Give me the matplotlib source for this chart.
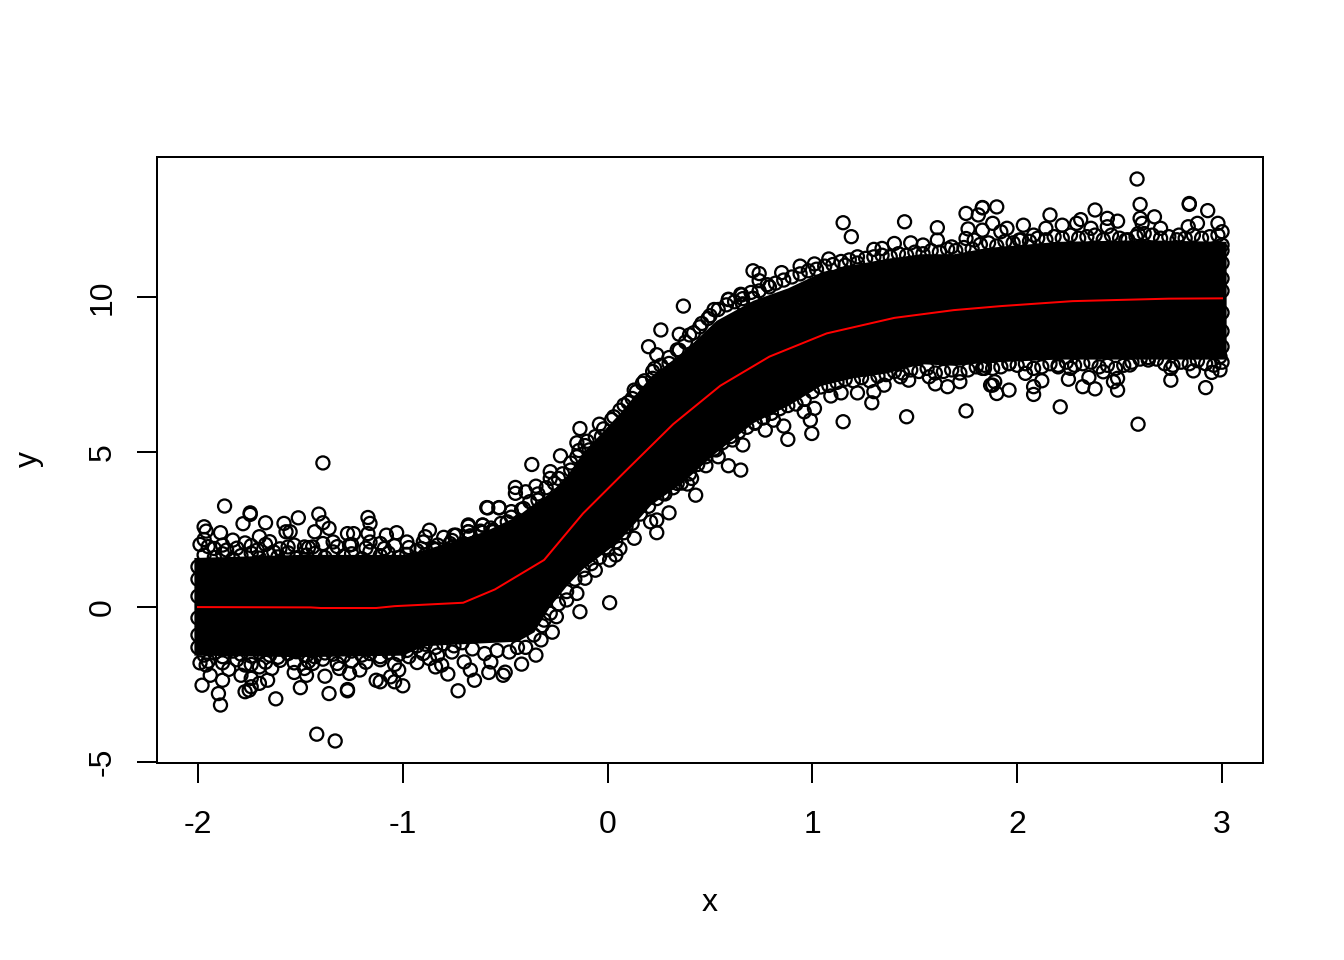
import matplotlib
matplotlib.use('Agg')
import numpy as np
import matplotlib.pyplot as plt

core_x = [-2.02, -1.5, -1.0, -0.9, -0.77, -0.6, -0.44, -0.36, -0.28, -0.2, -0.12, 0.05, 0.21, 0.37, 0.53, 0.71, 0.88,
          1.04, 1.2, 1.36, 1.53, 1.69, 1.85, 2.2, 2.6, 3.02]
core_upper = [1.6, 1.7, 1.7, 1.85, 2.1, 2.45, 2.95, 3.35, 3.7, 4.25, 5.0, 6.2, 7.45, 8.25, 9.25, 9.9, 10.3,
              10.8, 11.05, 11.25, 11.4, 11.4, 11.6, 11.8, 11.85, 11.8]
core_lower = [-1.55, -1.6, -1.55, -1.25, -1.2, -1.15, -1.1, -0.8, 0.05, 0.7, 1.25, 2.1, 3.3, 4.05, 5.0, 5.95, 6.5,
              7.15, 7.4, 7.55, 7.85, 7.8, 7.9, 8.0, 8.0, 8.0]

# Individually visible circles on the fringe of the cloud
upper_x = [-1.39, -1.87, -1.745, -1.745, -1.78, -1.67, -1.97, -1.96, -1.97, -1.99, -1.89, -1.51, -1.41, -1.58, -1.57,
           -1.55, -1.39, -1.36, -1.43, -1.17, -1.16, -1.27, -1.24, -1.17, -1.08, -1.03, -0.87, -0.89, -0.80, -0.74,
           -0.68, -0.68, -0.61, -0.56, -0.585, -0.53, -1.70, -1.65, -1.83, -1.77, -1.56, -1.48, -1.44, -1.34, -1.26,
           -1.16, -1.09, -0.98, -0.91, -0.85, -0.77, -0.65, -0.57, -1.92, -1.86, -1.71, -1.63,
           0.37, 0.26, 0.35, 0.20, 0.24, 0.59, 0.65, 0.66, 0.71, 0.52, 0.49, 0.45, 0.40, 0.35, 0.30, 0.23, 0.22, 0.17,
           0.13, 0.12, 0.08, 0.03, -0.04, -0.135, -0.15, -0.11, -0.09, -0.03, -0.23, -0.37, -0.15, -0.18, -0.28, -0.28,
           -0.24, -0.45, -0.45, -0.40, -0.35, -0.34, -0.59, -0.53, -0.47, -0.49, -0.41, -0.68, -0.68, -0.61, -0.61,
           -0.56, -0.75,
           1.15, 1.19, 1.45, 1.61, 1.75, 1.81, 1.83, 1.90, 1.76, 1.83, 1.88, 1.75, 1.79, 1.61, 1.48, 1.40, 1.34, 1.30,
           1.54, 1.68, 1.22, 1.08, 1.01, 0.94, 0.85, 0.71, 0.74, 0.74, 0.79, 0.655, 0.59, 0.71, 0.66, 1.16,
           2.585, 2.84, 2.84, 2.60, 2.93, 1.83, 2.38, 2.16, 2.60, 2.67, 2.88, 2.98, 2.835, 2.03, 1.95, 2.31, 2.29, 2.22,
           2.44, 2.49, 2.36, 2.14, 2.61, 2.70, 3.0, 1.92, 2.08, 2.53, 2.79, 2.01, 2.44, 2.59, 3.0]
upper_y = [4.65, 3.26, 2.99, 3.04, 2.69, 2.72, 2.59, 2.45, 2.18, 2.02, 2.40, 2.88, 3.0, 2.70, 2.43,
           2.43, 2.72, 2.54, 2.43, 2.89, 2.70, 2.37, 2.37, 2.37, 2.32, 2.40, 2.48, 2.27, 2.25, 2.32,
           2.61, 2.43, 2.64, 2.48, 3.2, 3.2, 2.27, 2.11, 2.16, 2.07, 1.94, 1.94, 1.94, 2.10, 2.00,
           2.10, 1.89, 2.10, 1.89, 1.89, 2.05, 1.94, 2.16, 1.89, 1.84, 1.84, 1.78,
           9.71, 8.94, 8.80, 8.40, 8.14, 9.93, 10.09, 9.78, 9.96, 9.60, 9.31, 9.04, 8.78, 8.29, 7.86, 7.70, 7.38, 7.22,
           7.0, 6.73, 6.52, 6.14, 5.90, 5.76, 5.30, 5.21, 5.07, 5.50, 4.88, 4.60, 4.85, 4.42, 4.37, 4.15,
           4.15, 3.86, 3.67, 3.72, 3.90, 3.45, 3.21, 3.21, 3.08, 2.75, 3.18, 2.65, 2.43, 2.65, 2.41,
           2.43, 2.32,
           12.4, 11.95, 12.43, 12.24, 12.7, 12.65, 12.88, 12.91, 12.2, 12.16, 12.38, 11.89, 11.84, 11.84, 11.75, 11.73, 11.57, 11.54,
           11.68, 11.62, 11.30, 11.23, 11.07, 11.0, 10.79, 10.85, 10.76, 10.53, 10.33, 10.07, 9.92, 9.96, 9.77, 11.03,
           13.81, 13.02, 12.99, 12.99, 12.79, 12.89, 12.81, 12.65, 12.54, 12.59, 12.38, 12.38, 12.27, 12.32, 12.22, 12.5, 12.38, 12.32,
           12.54, 12.45, 12.22, 12.22, 12.38, 12.22, 12.11, 12.11, 12.0, 11.84, 12.0, 11.84, 12.27, 12.05, 11.68]

lower_x = [-1.99, -1.96, -1.98, -1.90, -1.89, -1.94, -1.88, -1.85, -1.79, -1.77, -1.74, -1.74, -1.75, -1.70, -1.66,
           -1.77, -1.70, -1.64, -1.62, -1.53, -1.50, -1.47, -1.48, -1.44, -1.38, -1.36, -1.27, -1.27, -1.31, -1.26,
           -1.21, -1.13, -1.11, -1.06, -1.04, -1.0, -1.02, -0.93, -0.87, -0.84, -0.81, -0.78, -0.73, -0.67, -0.65,
           -0.58, -0.51, -0.57, -0.70, -1.42, -1.33,
           0.88, 0.86, 0.77, 0.66, 0.61, 0.65, 0.59, 0.54, 0.53, 0.48, 0.43, 0.41, 0.39, 0.34, 0.27, 0.30, 0.24, 0.24,
           0.13, 0.21, 0.09, 0.06, 0.04, 0.01, -0.06, -0.11, -0.15, -0.135, -0.20, 0.01, -0.25, -0.31, 0.81, 0.72,
           -0.35, -0.325, -0.27, -0.42, -0.50,
           0.997, 0.99, 1.15, 1.46, 1.75, 1.29, 1.14, 1.22, 1.09, 1.01, 0.96, 1.88, 1.89, 1.90, 1.66, 1.60, 1.72, 1.47,
           1.43, 1.35, 1.30, 1.57, 1.83,
           2.59, 2.21, 2.92, 2.75, 2.49, 2.38, 2.32, 2.25, 2.08, 2.08, 2.12, 1.96, 1.87, 2.49, 2.47, 2.35, 2.04, 2.42,
           2.99, 2.95, 2.86, 2.75, 2.55, 2.64, 2.20, 1.96, 1.84, 2.99, 2.26]
lower_y = [-1.80, -1.87, -2.52, -2.79, -3.16, -2.2, -2.36, -2.01, -2.2, -2.73, -2.30, -2.57, -2.68, -2.46, -2.36,
           -1.87, -1.93, -1.98, -2.96, -2.11, -2.60, -2.20, -1.98, -1.82, -2.23, -2.79, -2.66, -2.70, -1.98, -2.14,
           -2.03, -2.36, -2.41, -2.25, -2.41, -2.54, -2.03, -1.79, -1.66, -1.93, -1.87, -2.16, -2.70, -2.03, -2.36,
           -2.11, -2.20, -1.77, -1.77, -4.10, -4.32,
           5.41, 5.84, 5.71, 5.23, 5.39, 4.42, 4.56, 4.85, 5.07, 4.56, 3.61, 4.15, 3.97, 3.99, 3.67, 3.04, 2.81, 2.40,
           2.22, 2.75, 2.59, 1.89, 1.68, 1.52, 1.19, 0.93, 0.44, -0.15, 0.23, 0.14, -0.31, -0.42, 6.03, 5.93,
           -1.55, -1.06, -0.81, -1.84, -2.1,
           5.60, 6.03, 5.98, 6.14, 6.33, 6.59, 6.91, 6.91, 6.81, 6.41, 6.30, 7.16, 7.27, 6.89, 7.11, 7.2, 7.27, 7.32,
           7.43, 7.16, 6.95, 7.43, 7.7,
           5.90, 6.46, 7.08, 7.32, 7.0, 7.04, 7.11, 7.35, 6.86, 7.11, 7.3, 7.0, 7.16, 7.38, 7.27, 7.41, 7.54, 7.59,
           7.65, 7.57, 7.62, 7.7, 7.81, 7.97, 7.75, 7.86, 7.7, 8.08, 7.7]

# Overlapping circles packed against the core, estimated by eye
edge_up_x = [-1.97, -1.92, -1.88, -1.83, -1.79, -1.74, -1.70, -1.65, -1.61, -1.56, -1.52, -1.47, -1.43, -1.38, -1.34,
             -1.29, -1.25, -1.20, -1.16, -1.11, -1.07, -1.02, -0.98, -0.93, -0.89, -0.84, -0.80, -0.75, -0.71,
             -1.95, -1.88, -1.81, -1.74, -1.67, -1.60, -1.53, -1.46, -1.39, -1.32, -1.25, -1.18, -1.11, -1.04, -0.97,
             -0.90, -0.83, -0.76,
             -0.67, -0.62, -0.57, -0.52, -0.47, -0.42, -0.38, -0.34, -0.30, -0.26, -0.22, -0.18, -0.14, -0.10, -0.06,
             -0.02, 0.02, 0.06, 0.10, 0.14, 0.18, 0.22, 0.26, 0.30, 0.34, 0.38, 0.42, 0.46, 0.50, 0.54, 0.58, 0.62,
             0.66, 0.70,
             0.74, 0.78, 0.82, 0.86, 0.90, 0.94, 0.98, 1.02, 1.06, 1.10, 1.14, 1.18, 1.22, 1.26, 1.30, 1.34, 1.38,
             1.42, 1.46, 1.50, 1.54, 1.58, 1.62, 1.66, 1.70, 1.74, 1.78, 1.82, 1.86, 1.90, 1.94, 1.98, 2.02, 2.06,
             2.10, 2.14, 2.18, 2.22, 2.26, 2.30, 2.34, 2.38, 2.42, 2.46, 2.50, 2.54, 2.58, 2.62, 2.66, 2.70, 2.74,
             2.78, 2.82, 2.86, 2.90, 2.94, 2.98]
edge_up_y = [1.68, 1.6, 1.72, 1.55, 1.66, 1.74, 1.58, 1.7, 1.62, 1.75, 1.57, 1.68, 1.73, 1.6, 1.78,
             1.64, 1.72, 1.56, 1.8, 1.66, 1.74, 1.6, 1.7, 1.82, 1.68, 1.85, 1.75, 1.95, 2.0,
             1.95, 2.0, 1.9, 1.98, 2.02, 1.88, 2.0, 1.92, 2.05, 1.95, 2.02, 1.9, 2.05, 1.98, 1.92,
             2.1, 2.0, 2.15,
             2.3, 2.45, 2.55, 2.7, 2.9, 3.15, 3.4, 3.65, 3.85, 4.0, 4.3, 4.65, 5.05, 5.35, 5.5,
             5.75, 6.05, 6.35, 6.6, 6.95, 7.3, 7.6, 7.8, 8.05, 8.3, 8.55, 8.85, 9.15, 9.4, 9.6, 9.75, 9.85,
             9.95, 10.15,
             10.2, 10.4, 10.45, 10.55, 10.65, 10.75, 10.85, 10.9, 11.0, 11.05, 11.15, 11.2, 11.1, 11.25, 11.3, 11.35, 11.3,
             11.4, 11.35, 11.45, 11.4, 11.5, 11.45, 11.55, 11.5, 11.6, 11.55, 11.7, 11.75, 11.65, 11.8, 11.75, 11.85, 11.8,
             11.9, 11.85, 11.95, 11.9, 12.0, 11.9, 11.95, 12.0, 11.85, 12.0, 11.9, 11.85, 11.95, 12.05, 12.0, 11.9, 11.95,
             11.85, 11.9, 12.0, 11.9, 11.95, 12.0]

edge_low_x = [-1.97, -1.92, -1.88, -1.83, -1.79, -1.74, -1.70, -1.65, -1.61, -1.56, -1.52, -1.47, -1.43, -1.38, -1.34,
              -1.29, -1.25, -1.20, -1.16, -1.11, -1.07, -1.02, -0.98, -0.93, -0.89, -0.84, -0.80, -0.75, -0.71,
              -1.95, -1.88, -1.81, -1.74, -1.67, -1.60, -1.53, -1.46, -1.39, -1.32, -1.25, -1.18, -1.11, -1.04, -0.97,
              -0.90, -0.83, -0.76,
              -0.66, -0.60, -0.54, -0.48, -0.44,
              -0.40, -0.36, -0.32, -0.28, -0.24, -0.20, -0.16, -0.12, -0.08, -0.04, 0.0, 0.04, 0.08, 0.12, 0.16, 0.20,
              0.24, 0.28, 0.32, 0.36, 0.40, 0.44, 0.48, 0.52, 0.56, 0.60, 0.64, 0.68, 0.72, 0.76, 0.80, 0.84, 0.88,
              0.92, 0.96, 1.0,
              1.04, 1.08, 1.12, 1.16, 1.20, 1.24, 1.28, 1.32, 1.36, 1.40, 1.44, 1.48, 1.52, 1.56, 1.60, 1.64, 1.68,
              1.72, 1.76, 1.80, 1.84, 1.88, 1.92, 1.96, 2.00, 2.04, 2.08, 2.12, 2.16, 2.20, 2.24, 2.28, 2.32, 2.36,
              2.40, 2.44, 2.48, 2.52, 2.56, 2.60, 2.64, 2.68, 2.72, 2.76, 2.80, 2.84, 2.88, 2.92, 2.96, 3.0]
edge_low_y = [-1.55, -1.48, -1.6, -1.42, -1.52, -1.58, -1.46, -1.55, -1.62, -1.5, -1.44, -1.56, -1.6, -1.48, -1.52,
              -1.58, -1.42, -1.55, -1.5, -1.6, -1.46, -1.53, -1.4, -1.25, -1.2, -1.3, -1.18, -1.25, -1.15,
              -1.75, -1.8, -1.7, -1.85, -1.78, -1.72, -1.8, -1.75, -1.68, -1.82, -1.74, -1.78, -1.7, -1.85, -1.6,
              -1.5, -1.55, -1.45,
              -1.35, -1.5, -1.4, -1.45, -1.3,
              -1.3, -0.9, -0.6, -0.2, 0.1, 0.5, 0.9, 1.2, 1.4, 1.6, 1.85, 2.1, 2.4, 2.7, 3.0, 3.25,
              3.5, 3.65, 3.85, 4.0, 4.3, 4.6, 4.85, 5.1, 5.3, 5.5, 5.65, 5.8, 5.95, 6.1, 6.25, 6.4, 6.5,
              6.55, 6.7, 6.95,
              7.1, 7.15, 7.25, 7.35, 7.3, 7.4, 7.3, 7.45, 7.5, 7.6, 7.55, 7.65, 7.6, 7.7, 7.55, 7.6, 7.65,
              7.55, 7.65, 7.75, 7.8, 7.7, 7.75, 7.85, 7.8, 7.85, 7.7, 7.75, 7.85, 7.8, 7.9, 7.8, 7.85, 7.9,
              7.75, 7.8, 7.7, 7.8, 7.9, 8.0, 8.05, 8.0, 7.85, 7.8, 7.9, 7.85, 7.95, 7.85, 7.8, 7.9]

# Circles sticking out at the two ends of the cloud
end_x = [-2.0, -2.0, -2.0, -2.0, -2.0, -2.0, 3.0, 3.0, 3.0, 3.0, 3.0, 3.0, 3.0]
end_y = [1.3, 0.9, 0.35, -0.35, -0.9, -1.3, 8.4, 8.9, 9.5, 10.2, 10.6, 11.1, 11.5]

# Red fitted curve
fit_x = [-2.0, -1.45, -1.4, -1.13, -1.04, -0.705, -0.55, -0.31, -0.12, 0.085, 0.32, 0.55, 0.79, 1.07, 1.40, 1.69,
         1.92, 2.27, 2.74, 3.0]
fit_y = [0.0, -0.01, -0.03, -0.03, 0.03, 0.14, 0.57, 1.52, 3.02, 4.37, 5.90, 7.14, 8.08, 8.83, 9.33, 9.58,
         9.71, 9.87, 9.95, 9.96]

x_ticks = [-2, -1, 0, 1, 2, 3]
y_ticks = [-5, 0, 5, 10]

plt.rcParams['font.family'] = ['Liberation Sans', 'DejaVu Sans']
plt.rcParams['axes.unicode_minus'] = False

fig = plt.figure(figsize=(7, 5), dpi=192)
ax = fig.add_axes([157 / 1344, 1 - 763 / 960, (1263 - 157) / 1344, (763 - 157) / 960])

ax.fill_between(core_x, core_lower, core_upper, color='black', lw=0, zorder=2)
ax.scatter(upper_x + lower_x + edge_up_x + edge_low_x + end_x, upper_y + lower_y + edge_up_y + edge_low_y + end_y,
           s=24, facecolors='none', edgecolors='black', linewidths=0.85, zorder=3)
ax.plot(fit_x, fit_y, color='#ff0000', lw=0.75, zorder=4)

ax.set_xlim(-2.2, 3.2)
ax.set_ylim(-5.03, 14.52)
ax.set_xticks(x_ticks)
ax.set_yticks(y_ticks)
ax.tick_params(axis='x', length=7.5, width=0.75, labelsize=12, pad=10)
ax.tick_params(axis='y', length=7.5, width=0.75, labelsize=12, pad=7.2)
plt.setp(ax.get_yticklabels(), rotation=90, va='center')
for spine in ax.spines.values():
    spine.set_linewidth(0.75)

fig.text(710 / 1344, 1 - 903 / 960, 'x', fontsize=12, ha='center', va='center')
fig.text(29 / 1344, 1 - 459 / 960, 'y', fontsize=12, rotation=90, ha='center', va='center')

fig.savefig('out.png', dpi=192)
